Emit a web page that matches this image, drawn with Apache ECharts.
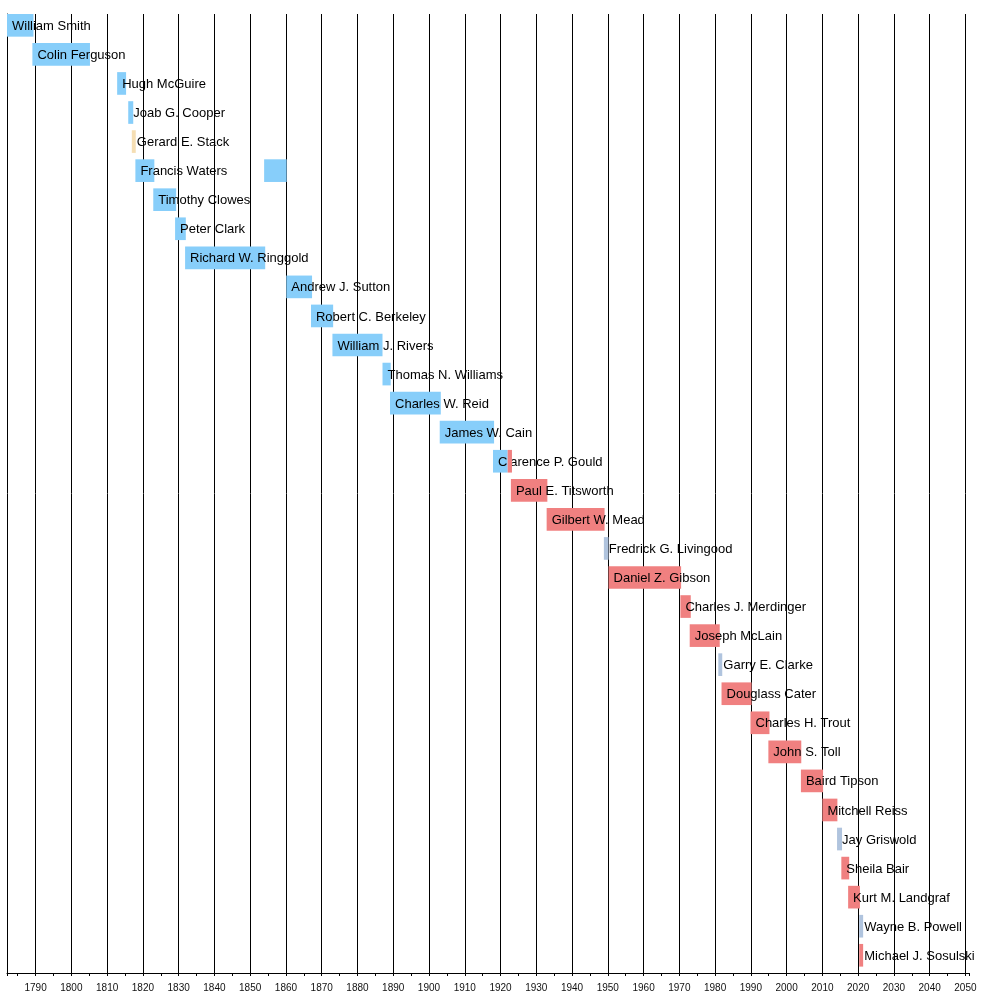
<!DOCTYPE html>
<html lang="en">
<head>
  <meta charset="UTF-8" />
  <title>Presidents timeline</title>
  <script src="https://cdn.jsdelivr.net/npm/echarts@6/dist/echarts.min.js"></script>
  <style>
    html, body { margin: 0; padding: 0; background: #fff; }
  </style>
</head>
<body>
  <div id="main" style="width: 1000px; height: 993px;"></div>

  <script>
    // one row per person, top to bottom
    const names = [
      "William Smith", "Colin Ferguson", "Hugh McGuire", "Joab G. Cooper",
      "Gerard E. Stack", "Francis Waters", "Timothy Clowes", "Peter Clark",
      "Richard W. Ringgold", "Andrew J. Sutton", "Robert C. Berkeley",
      "William J. Rivers", "Thomas N. Williams", "Charles W. Reid",
      "James W. Cain", "Clarence P. Gould", "Paul E. Titsworth",
      "Gilbert W. Mead", "Fredrick G. Livingood", "Daniel Z. Gibson",
      "Charles J. Merdinger", "Joseph McLain", "Garry E. Clarke",
      "Douglass Cater", "Charles H. Trout", "John S. Toll", "Baird Tipson",
      "Mitchell Reiss", "Jay Griswold", "Sheila Bair", "Kurt M. Landgraf",
      "Wayne B. Powell", "Michael J. Sosulski"
    ];

    // terms (a row can have more than one bar)
    const termRow = [0, 1, 2, 3, 4, 5, 5, 6, 7, 8, 9, 10, 11, 12, 13, 14, 15, 15,
      16, 17, 18, 19, 20, 21, 22, 23, 24, 25, 26, 27, 28, 29, 30, 31, 32];
    const termStart = [1782, 1789.1, 1812.8, 1815.9, 1816.9, 1817.9, 1853.9,
      1822.9, 1829.0, 1831.8, 1860.1, 1867.0, 1873.0, 1887.0, 1889.1, 1903.0,
      1917.9, 1922.0, 1922.9, 1932.9, 1948.9, 1950.2, 1970.3, 1972.9, 1980.9,
      1981.8, 1989.9, 1994.9, 2004.0, 2010.0, 2014.1, 2015.3, 2017.2, 2020.3,
      2020.3];
    const termEnd = [1789.4, 1805.2, 1815.3, 1817.3, 1818.0, 1823.2, 1860.2,
      1829.3, 1832.0, 1854.2, 1867.3, 1873.2, 1887.0, 1889.3, 1903.3, 1918.2,
      1922.0, 1923.2, 1933.1, 1949.1, 1950.2, 1970.5, 1973.2, 1981.3, 1982.0,
      1990.2, 1995.2, 2004.1, 2010.2, 2014.2, 2015.5, 2017.5, 2020.5, 2021.4,
      2021.4];
    // 0 = blue, 1 = pink, 2 = wheat, 3 = steel
    const termKind = [0, 0, 0, 0, 2, 0, 0, 0, 0, 0, 0, 0, 0, 0, 0, 0, 0, 1,
      1, 1, 3, 1, 1, 1, 3, 1, 1, 1, 1, 1, 3, 1, 1, 3, 1];

    const kindColors = ["#87cefa", "#f08080", "#f5deb3", "#b0c4de"];

    // only the first bar of a row carries the name
    const seen = {};
    const termData = termRow.map((r, i) => {
      const first = seen[r] ? 0 : 1;
      seen[r] = true;
      return [r, termStart[i], termEnd[i], termKind[i], first];
    });

    const myChart = echarts.init(document.getElementById("main"));

    const option = {
      animation: false,
      grid: { left: 7, right: 31, top: 14, bottom: 20 },
      xAxis: {
        type: "value",
        min: 1782,
        max: 2051,
        splitNumber: 27,
        axisLine: { show: true, onZero: false, lineStyle: { color: "#000", width: 1 } },
        axisTick: { show: true, length: 3, lineStyle: { color: "#000" } },
        minorTick: { show: true, splitNumber: 2, length: 3, lineStyle: { color: "#000" } },
        splitLine: {
          show: true,
          showMinLine: false,
          showMaxLine: false,
          lineStyle: { color: "#000", width: 1 }
        },
        axisLabel: {
          showMinLabel: false,
          showMaxLabel: false,
          margin: 10,
          fontSize: 10,
          color: "#111",
          fontFamily: "Liberation Sans",
          formatter: (v) => String(v)
        }
      },
      yAxis: {
        type: "value",
        min: 0,
        max: names.length,
        inverse: true,
        axisLine: { show: true, onZero: false, lineStyle: { color: "#000", width: 1 } },
        axisTick: { show: false },
        axisLabel: { show: false },
        splitLine: { show: false }
      },
      series: [
        {
          type: "custom",
          clip: false,
          encode: { x: [1, 2], y: 0 },
          data: termData,
          renderItem: (params, api) => {
            const row = api.value(0);
            const p0 = api.coord([api.value(1), row]);
            const p1 = api.coord([api.value(2), row]);
            const h = api.size([0, 1])[1] * 0.78;
            const children = [
              {
                type: "rect",
                shape: { x: p0[0], y: p0[1], width: p1[0] - p0[0], height: h },
                style: { fill: kindColors[api.value(3)] }
              }
            ];
            if (api.value(4)) {
              children.push({
                type: "text",
                style: {
                  x: p0[0] + 5,
                  y: p0[1] + h / 2 + 1,
                  text: names[row],
                  fill: "#000",
                  font: "13px 'Liberation Sans'",
                  verticalAlign: "middle",
                  align: "left"
                }
              });
            }
            return { type: "group", children: children };
          }
        }
      ]
    };

    myChart.setOption(option);
  </script>
</body>
</html>
